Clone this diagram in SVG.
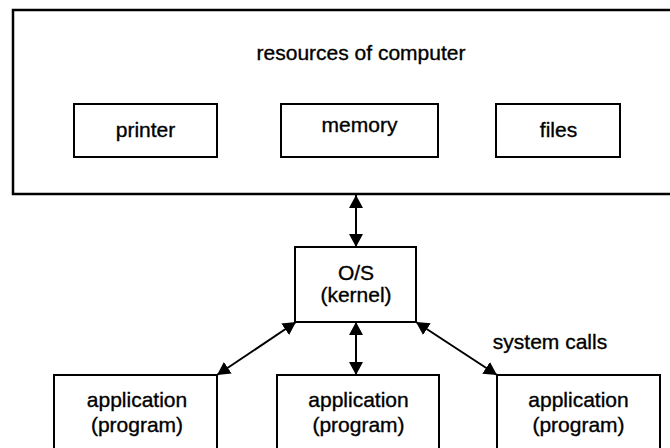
<svg xmlns="http://www.w3.org/2000/svg" width="670" height="448" viewBox="0 0 670 448">
<style>
.box{fill:#fff;stroke:#000;stroke-width:2}
.big{fill:#fff;stroke:#000;stroke-width:2.5}
text{font-family:"Liberation Sans",Arial,sans-serif;font-size:21px;fill:#000;stroke:#000;stroke-width:0.35;text-anchor:middle}
.conn line{stroke:#000;stroke-width:2;marker-start:url(#ah);marker-end:url(#ah)}
</style>
<defs>
<marker id="ah" viewBox="0 0 13 14" refX="13" refY="7" markerWidth="13" markerHeight="14" markerUnits="userSpaceOnUse" orient="auto-start-reverse">
<path d="M0,0 L13,7 L0,14 z" fill="#000"/>
</marker>
</defs>
<rect width="670" height="448" fill="#fff"/>
<g id="resources">
<rect class="big" x="13" y="10" width="680" height="184"/>
<text x="361" y="60">resources of computer</text>
</g>
<g id="printer">
<rect class="box" x="74" y="104" width="143" height="53"/>
<text x="145.5" y="137">printer</text>
</g>
<g id="memory">
<rect class="box" x="281" y="104" width="157" height="53"/>
<text x="359.5" y="132">memory</text>
</g>
<g id="files">
<rect class="box" x="496" y="104" width="124" height="53"/>
<text x="558.5" y="137">files</text>
</g>
<g id="os">
<rect class="box" x="295" y="247" width="121" height="75"/>
<text x="356" y="280">O/S</text>
<text x="356" y="302">(kernel)</text>
</g>
<g id="app1">
<rect class="box" x="54" y="375" width="163" height="90"/>
<text x="137" y="407">application</text>
<text x="137" y="432">(program)</text>
</g>
<g id="app2">
<rect class="box" x="277" y="375" width="162" height="90"/>
<text x="358.5" y="407">application</text>
<text x="358.5" y="432">(program)</text>
</g>
<g id="app3">
<rect class="box" x="497" y="375" width="163" height="90"/>
<text x="578.5" y="407">application</text>
<text x="578.5" y="432">(program)</text>
</g>
<g id="label-syscalls">
<text x="550" y="349">system calls</text>
</g>
<g class="conn" id="connectors">
<line x1="356" y1="195" x2="356" y2="247"/>
<line x1="356" y1="322" x2="356" y2="375"/>
<line x1="296" y1="322" x2="217" y2="375"/>
<line x1="416" y1="322" x2="497" y2="375"/>
</g>
</svg>
